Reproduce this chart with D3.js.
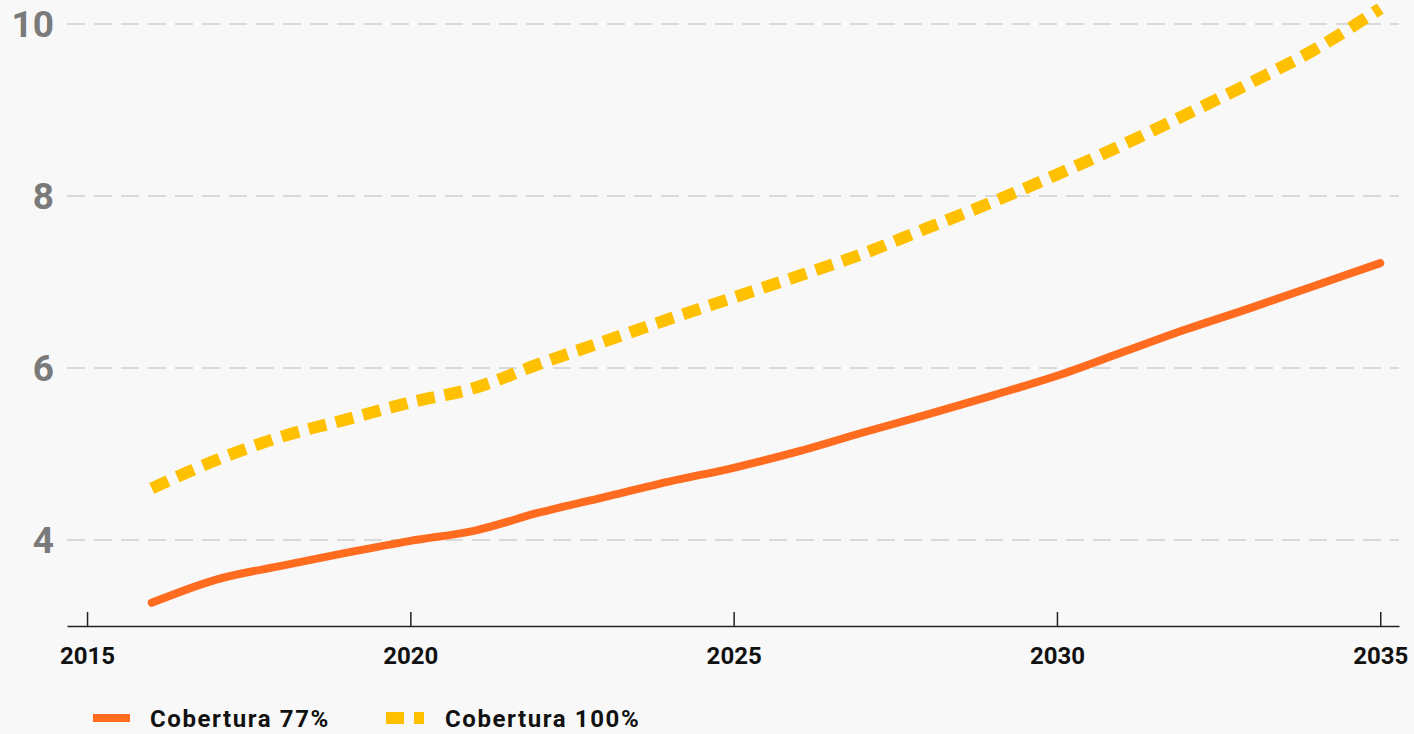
<!DOCTYPE html>
<html><head><meta charset="utf-8">
<script src="https://cdn.jsdelivr.net/npm/d3@7"></script>
<style>
html,body{margin:0;padding:0;background:#f8f8f8;}
svg{display:block;}
</style></head>
<body>
<svg id="chart" width="1414" height="734"></svg>
<script>
const years = [2016,2017,2018,2019,2020,2021,2022,2023,2024,2025,2026,2027,2028,2029,2030,2031,2032,2033,2034,2035];
const cob77 = [3.27,3.54,3.70,3.85,3.99,4.11,4.32,4.50,4.68,4.84,5.03,5.25,5.46,5.68,5.91,6.18,6.45,6.70,6.96,7.22];
const cob100 = [4.60,4.93,5.20,5.40,5.60,5.77,6.05,6.31,6.57,6.82,7.07,7.33,7.63,7.93,8.25,8.59,8.95,9.32,9.71,10.18];
const xTicks = [2015,2020,2025,2030,2035];
const yTicks = [4,6,8,10];
const seriesNames = ["Cobertura 77%","Cobertura 100%"];

const svg = d3.select("#chart");
const x = d3.scaleLinear().domain([2014.69,2035.29]).range([67,1399]);
const y = d3.scaleLinear().domain([3,10.28]).range([626,0]);
const font = "Roboto, 'Open Sans', sans-serif";

// gridlines
svg.append("g").selectAll("line").data(yTicks).join("line")
  .attr("x1",67).attr("x2",1399)
  .attr("y1",d=>y(d)).attr("y2",d=>y(d))
  .attr("stroke","#cfcfcf").attr("stroke-width",1.5)
  .attr("stroke-dasharray","18,9");

// y labels
svg.append("g").selectAll("text").data(yTicks).join("text")
  .attr("x",54).attr("y",d=>y(d)).attr("dy","0.36em")
  .attr("text-anchor","end")
  .attr("font-family",font).attr("font-weight","bold").attr("font-size",37)
  .attr("fill","#7a7a7a").text(d=>d);

// x axis
const xAxis = d3.axisBottom(x).tickValues(xTicks).tickFormat(d3.format("d")).tickSizeInner(-14).tickSizeOuter(0).tickPadding(21);
const gx = svg.append("g").attr("transform","translate(0,626)").call(xAxis);
gx.select(".domain").attr("stroke","#222").attr("stroke-width",1.5);
gx.selectAll(".tick line").attr("stroke","#222").attr("stroke-width",1.5);
gx.selectAll(".tick text").attr("font-family",font).attr("font-weight","bold").attr("font-size",24).attr("fill","#111");

const line = d3.line().x((d,i)=>x(years[i])).y(d=>y(d)).curve(d3.curveMonotoneX);

svg.append("path").datum(cob77).attr("d",line)
  .attr("fill","none").attr("stroke","#ff6b1f").attr("stroke-width",8).attr("stroke-linecap","round");
svg.append("path").datum(cob100).attr("d",line)
  .attr("fill","none").attr("stroke","#ffc000").attr("stroke-width",12).attr("stroke-dasharray","18,10");

// legend
const lg = svg.append("g");
lg.append("line").attr("x1",93).attr("x2",130).attr("y1",718).attr("y2",718)
  .attr("stroke","#ff6b1f").attr("stroke-width",8);
lg.append("text").attr("x",150).attr("y",727).attr("font-family",font).attr("font-weight","bold")
  .attr("font-size",24).attr("letter-spacing","1.6px").attr("fill","#111").text(seriesNames[0]);
lg.append("line").attr("x1",386).attr("x2",424).attr("y1",718).attr("y2",718)
  .attr("stroke","#ffc000").attr("stroke-width",12).attr("stroke-dasharray","18,10");
lg.append("text").attr("x",445).attr("y",727).attr("font-family",font).attr("font-weight","bold")
  .attr("font-size",24).attr("letter-spacing","1.6px").attr("fill","#111").text(seriesNames[1]);
</script>
</body></html>
